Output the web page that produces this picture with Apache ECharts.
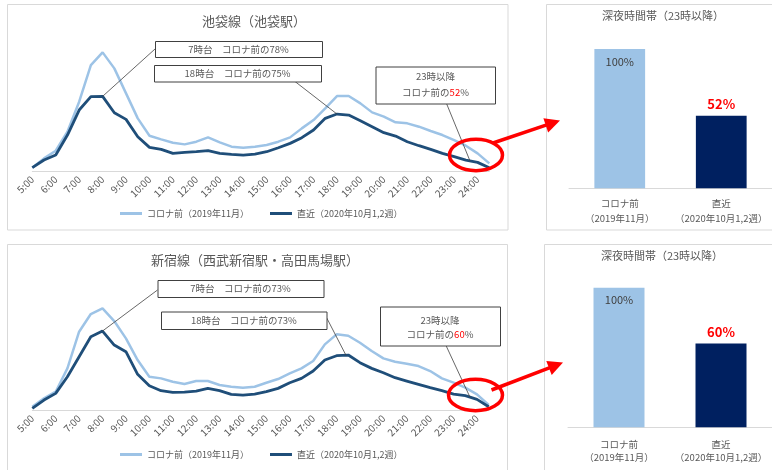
<!DOCTYPE html>
<html><head><meta charset="utf-8">
<script src="https://cdn.jsdelivr.net/npm/echarts@6/dist/echarts.min.js"></script>
<style>html,body{margin:0;padding:0;background:#fff}#c{width:772px;height:470px}</style>
</head><body><div id="c"></div>
<script>
// ---- data ----
const times = ["5:00","5:30","6:00","6:30","7:00","7:30","8:00","8:30","9:00","9:30",
  "10:00","10:30","11:00","11:30","12:00","12:30","13:00","13:30","14:00","14:30",
  "15:00","15:30","16:00","16:30","17:00","17:30","18:00","18:30","19:00","19:30",
  "20:00","20:30","21:00","21:30","22:00","22:30","23:00","23:30","24:00","24:30"];
const nameBefore = "コロナ前（2019年11月）";
const nameNow = "直近（2020年10月1,2週）";
// Ikebukuro line (relative passenger volume)
const ikeBefore = [12,40,63,120,210,320,358,310,235,160,108,97,87,82,90,103,88,75,72,75,
  80,90,103,130,155,190,227,227,205,178,165,148,145,135,122,110,95,78,55,25];
const ikeNow = [12,35,50,110,185,225,226,177,157,105,73,67,55,58,60,63,55,52,50,53,
  60,72,85,102,125,160,173,170,153,135,117,107,90,78,67,55,45,35,28,12];
// Shinjuku line
const shinBefore = [12,37,57,127,237,290,307,269,217,152,102,97,87,80,89,89,77,72,69,72,
  84,95,112,127,149,199,229,225,204,179,157,147,141,134,119,97,84,69,49,17];
const shinNow = [7,32,52,102,162,222,239,197,177,109,75,60,55,56,59,67,60,49,47,50,
  57,67,84,97,119,152,165,167,144,127,114,99,89,79,69,60,50,45,34,12];
// late-night bars (%)
const barCats = ["コロナ前\n（2019年11月）", "直近\n（2020年10月1,2週）"];
const ikeBar = [100, 52];
const shinBar = [100, 60];
const titles = ["池袋線（池袋駅）", "新宿線（西武新宿駅・高田馬場駅）", "深夜時間帯（23時以降）"];

// ---- chart ----
const FONT = "'Noto Sans CJK JP','Noto Sans CJK SC',sans-serif";
const GRAY = '#595959';
const LIGHT = '#9dc3e6', DARK = '#1f4e79', NAVY = '#002060';
const chart = echarts.init(document.getElementById('c'), null, {renderer: 'canvas'});

function lineX(g) {
  return {gridIndex: g, type: 'category', data: times, boundaryGap: false,
    axisLine: {lineStyle: {color: '#d9d9d9', width: 1}}, axisTick: {show: false},
    axisLabel: {interval: 1, rotate: 45, fontSize: 10, color: GRAY, margin: 6, fontFamily: FONT},
    splitLine: {show: false}};
}
function barX(g, margin, lh) {
  return {gridIndex: g, type: 'category', data: barCats,
    axisLine: {lineStyle: {color: '#d9d9d9', width: 1}}, axisTick: {show: false},
    axisLabel: {interval: 0, hideOverlap: false, fontSize: 9.5, color: GRAY, margin: margin, lineHeight: lh, fontFamily: FONT}};
}
function lineSeries(name, g, data, color, w) {
  return {type: 'line', name: name, xAxisIndex: g, yAxisIndex: g, data: data, showSymbol: false,
    symbol: 'none', lineStyle: {color: color, width: w}, itemStyle: {color: color}, z: 2};
}
function barSeries(g, vals) {
  return {type: 'bar', xAxisIndex: g, yAxisIndex: g, barWidth: '50%',
    data: [
      {value: vals[0], itemStyle: {color: LIGHT},
        label: {show: true, position: 'insideTop', distance: 7, formatter: '{c}%', color: '#404040', fontSize: 11, fontFamily: FONT}},
      {value: vals[1], itemStyle: {color: NAVY},
        label: {show: true, position: 'top', distance: 5, formatter: '{c}%', color: '#ff0000', fontSize: 13, fontWeight: 'bold', fontFamily: FONT}}
    ]};
}
function legend(top) {
  return {left: 120, top: top, padding: 0, itemWidth: 22, itemHeight: 3, icon: 'rect', itemGap: 21,
    data: [nameBefore, nameNow], textStyle: {fontSize: 9, color: GRAY, fontFamily: FONT}};
}
function title(text, x, top, size) {
  return {text: text, left: x, top: top, textAlign: 'center', padding: 0,
    textStyle: {fontSize: size, fontWeight: 'normal', color: GRAY, fontFamily: FONT}};
}

chart.setOption({
  animation: false,
  backgroundColor: '#fff',
  title: [title(titles[0], 254, 15, 13), title(titles[1], 255, 254, 13),
          title(titles[2], 663, 10, 11), title(titles[2], 662, 250, 11)],
  legend: [legend(209), legend(450)],
  grid: [
    {left: 32.3, right: 282.7, top: 31.7, height: 140},
    {left: 32.3, right: 283.3, top: 270.7, height: 140},
    {left: 569, width: 207, top: 49, height: 139.3},
    {left: 568, width: 207, top: 287.7, height: 139.6}
  ],
  xAxis: [lineX(0), lineX(1), barX(2, 7, 15.7), barX(3, 10, 13.7)],
  yAxis: [0, 1].map(g => ({gridIndex: g, type: 'value', min: 0, max: 420, show: false}))
    .concat([2, 3].map(g => ({gridIndex: g, type: 'value', min: 0, max: 100, show: false}))),
  series: [
    lineSeries(nameBefore, 0, ikeBefore, LIGHT, 2.5), lineSeries(nameNow, 0, ikeNow, DARK, 2.8),
    lineSeries(nameBefore, 1, shinBefore, LIGHT, 2.5), lineSeries(nameNow, 1, shinNow, DARK, 2.8),
    barSeries(2, ikeBar), barSeries(3, shinBar)
  ]
});

// ---- annotations ----
function pt(g, data, fi) {
  const i0 = Math.floor(fi), i1 = Math.min(i0 + 1, data.length - 1), t = fi - i0;
  const a = chart.convertToPixel({gridIndex: g}, [i0, data[i0]]);
  const b = chart.convertToPixel({gridIndex: g}, [i1, data[i1]]);
  return [a[0] + (b[0] - a[0]) * t, a[1] + (b[1] - a[1]) * t];
}
const BOXFONT = "9.5px " + FONT;
function box(x, y, w, h) {
  return {type: 'rect', z: 100, shape: {x: x + 0.5, y: y + 0.5, width: w, height: h},
    style: {fill: '#fff', stroke: '#404040', lineWidth: 1}};
}
function txt(text, x, y, rich) {
  const o = {type: 'text', z: 101, x: x, y: y,
    style: {text: text, textAlign: 'center', textVerticalAlign: 'middle', fill: GRAY, font: BOXFONT}};
  if (rich) o.style.rich = {r: {fill: '#ff0000', font: BOXFONT}};
  return o;
}
function leader(x1, y1, p) {
  return {type: 'line', z: 99, shape: {x1: x1, y1: y1, x2: p[0], y2: p[1]},
    style: {stroke: '#404040', lineWidth: 0.8}};
}
function ellipse(cx, cy, rx, ry) {
  return {type: 'ellipse', z: 102, shape: {cx: cx, cy: cy, rx: rx, ry: ry},
    style: {stroke: '#ff0000', fill: 'none', lineWidth: 3.5}};
}
function arrow(x1, y1, x2, y2) {
  const dx = x2 - x1, dy = y2 - y1, L = Math.hypot(dx, dy), ux = dx / L, uy = dy / L;
  const hl = 15, hw = 7.5, bx = x2 - ux * hl, by = y2 - uy * hl;
  return [
    {type: 'line', z: 102, shape: {x1: x1, y1: y1, x2: bx + ux, y2: by + uy},
      style: {stroke: '#ff0000', lineWidth: 3.5}},
    {type: 'polygon', z: 102, shape: {points: [[x2, y2], [bx - uy * hw, by + ux * hw], [bx + uy * hw, by - ux * hw]]},
      style: {fill: '#ff0000'}}
  ];
}
function panel(x, y, w, h) {
  return {type: 'rect', z: -10, shape: {x: x, y: y, width: w, height: h},
    style: {fill: 'none', stroke: '#d9d9d9', lineWidth: 1}};
}

const g = [
  panel(7.5, 4.5, 500.5, 225.5), panel(7.5, 244.5, 500, 240),
  panel(546.5, 4.5, 240, 225.5), panel(544.5, 244.5, 240, 240),
  // Ikebukuro
  leader(155, 49, pt(0, ikeNow, 6)),
  leader(295, 81.5, pt(0, ikeNow, 26)),
  leader(446.5, 103.5, pt(0, ikeNow, 37.35)),
  box(155, 41, 167, 16), txt("7時台　コロナ前の78%", 238.5, 49.5),
  box(154, 65, 167, 16.5), txt("18時台　コロナ前の75%", 237.5, 73.5),
  box(375.5, 66.5, 119.5, 37), txt("23時以降", 435.5, 76.5),
  txt("コロナ前の{r|52}%", 435.5, 92.5, true),
  ellipse(476, 155, 26.5, 15.7),
  // Shinjuku
  leader(157.5, 290, pt(1, shinNow, 6)),
  leader(326.5, 317.5, pt(1, shinNow, 26.8)),
  leader(446, 345.5, pt(1, shinNow, 37.4)),
  box(157.5, 280, 166, 17), txt("7時台　コロナ前の73%", 240.5, 288.5),
  box(161, 311.5, 165.5, 17.5), txt("18時台　コロナ前の73%", 243.8, 320.3),
  box(380, 306.5, 120, 39), txt("23時以降", 440, 320),
  txt("コロナ前の{r|60}%", 440, 334.5, true),
  ellipse(475.5, 395, 27, 15.7)
].concat(arrow(493, 143, 560, 120.5)).concat(arrow(491.5, 390, 563, 362.5));

chart.setOption({graphic: g});
</script>
</body></html>
